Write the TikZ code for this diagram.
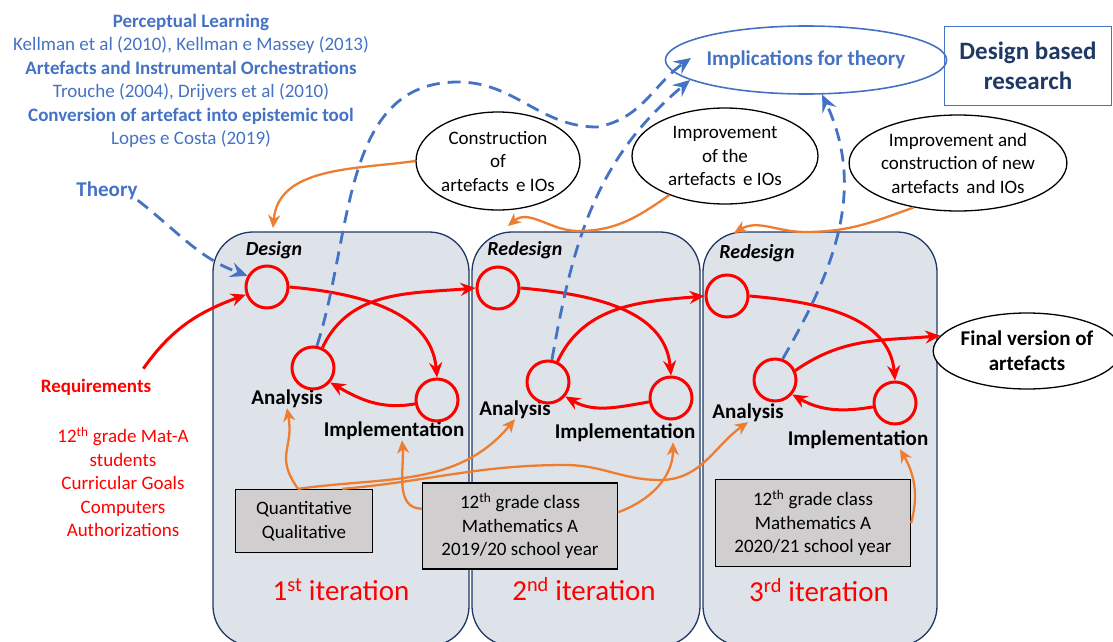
\documentclass[tikz,border=0pt]{standalone}
\usepackage{fontspec}
\setmainfont{Carlito}
\usepackage{tikz}
\usetikzlibrary{shapes.geometric,arrows.meta}
\definecolor{theoryblue}{HTML}{4472C4}
\definecolor{iterorange}{HTML}{ED7D31}
\definecolor{dbrnavy}{HTML}{1F3864}
\definecolor{iterfill}{HTML}{DEE3EA}
\definecolor{datagrey}{HTML}{D0CECE}
\tikzstyle{redarrow}  = [red,line width=3pt,->,>={Stealth[length=15pt,width=13pt,inset=5pt]}]
\tikzstyle{bluedash}  = [theoryblue,line width=2.8pt,dash pattern=on 13pt off 8pt,->,>={Stealth[length=17pt,width=15pt,inset=6pt]}]
\tikzstyle{orangearrow} = [iterorange,line width=2.3pt,->,>={Stealth[length=13pt,width=12pt,inset=4pt]}]
\tikzstyle{stage}     = [circle,draw=red,line width=3pt,minimum size=42pt,inner sep=0pt]
\tikzstyle{iter}      = [rectangle,rounded corners=40pt,draw=dbrnavy,line width=1.3pt,fill=iterfill]
\tikzstyle{txt}       = [font=\fontsize{19}{23.5}\selectfont,align=center,inner sep=0pt]
\tikzstyle{lab}       = [font=\fontsize{21}{25}\selectfont\bfseries,inner sep=0pt]
\tikzstyle{oval}      = [ellipse,draw=black,line width=1.3pt,fill=white,inner sep=0pt,txt]
\tikzstyle{datab}     = [rectangle,draw=black,line width=1.3pt,fill=datagrey,txt]

\begin{document}
\begin{tikzpicture}[x=1pt,y=1pt]
           \useasboundingbox (0,0) rectangle (1113,-642);
           % iteration boxes
           \node[iter,minimum width=256pt,minimum height=414pt](b1)at(341,-439){};
           \node[iter,minimum width=228pt,minimum height=414pt](b2)at(586,-439){};
           \node[iter,minimum width=234pt,minimum height=414pt](b3)at(820,-439){};
           % theory texts
           \node[txt,theoryblue](bt)at(191,-81){\textbf{Perceptual Learning}\\
               Kellman et al (2010), Kellman e Massey (2013)\\
               \textbf{Artefacts and Instrumental Orchestrations}\\
               Trouche (2004), Drijvers et al (2010)\\
               \textbf{Conversion of artefact into epistemic tool}\\
               Lopes e Costa (2019)};
           \node[lab,theoryblue](th)at(107,-191){Theory};
           \node[ellipse,draw=theoryblue,line width=1.6pt,minimum width=224pt,minimum height=68pt,inner sep=0pt,lab,theoryblue](it)at(806,-60){Implications for theory};
           \node[draw=theoryblue,line width=1.6pt,minimum width=167pt,minimum height=79pt,align=center,inner sep=0pt,font=\fontsize{25}{30}\selectfont\bfseries,text=dbrnavy](dbr)at(1028,-66){Design based\\research};
           % requirements
           \node[txt,red,font=\fontsize{19}{23.5}\selectfont\bfseries](rq)at(96,-387){Requirements};
           \node[txt,red](rl)at(123,-482){12\textsuperscript{th} grade Mat-A\\students\\Curricular Goals\\Computers\\Authorizations};
           % ellipses on top
           \node[oval,minimum width=164pt,minimum height=98pt](c1)at(498,-161){Construction\\of\\artefacts\, e IOs};
           \node[oval,minimum width=186pt,minimum height=96pt](c2)at(725,-156){Improvement\\of the\\artefacts\, e IOs};
           \node[oval,minimum width=198pt,minimum height=96pt](c3)at(958,-163){Improvement and\\construction of new\\artefacts\, and IOs};
           \node[oval,minimum width=176pt,minimum height=76pt,font=\fontsize{21}{25}\selectfont\bfseries](fv)at(1027,-351){Final version of\\artefacts};
           % labels in the boxes
           \node[lab,font=\fontsize{20}{24}\selectfont\bfseries\itshape](dl1)at(274,-250){Design};
           \node[lab,font=\fontsize{20}{24}\selectfont\bfseries\itshape](dl2)at(525,-250){Redesign};
           \node[lab,font=\fontsize{20}{24}\selectfont\bfseries\itshape](dl3)at(757,-253){Redesign};
           \node[lab](al1)at(287,-399){Analysis};
           \node[lab](im1)at(394,-431){Implementation};
           \node[lab](al2)at(515,-410){Analysis};
           \node[lab](im2)at(625,-433){Implementation};
           \node[lab](al3)at(748,-413){Analysis};
           \node[lab](im3)at(858,-440){Implementation};
           % circles
           \node[stage](d1)at(267,-287){};
           \node[stage](a1)at(313,-368){};
           \node[stage](m1)at(437,-400){};
           \node[stage](d2)at(498,-288){};
           \node[stage](a2)at(548,-382){};
           \node[stage](m2)at(671,-398){};
           \node[stage](d3)at(727,-296){};
           \node[stage](a3)at(775,-380){};
           \node[stage](m3)at(895,-403){};
           % data boxes
           \node[datab,minimum width=137pt,minimum height=63pt](q)at(304,-521){Quantitative\\Qualitative};
           \node[datab,minimum width=195pt,minimum height=86pt](g2)at(520,-526){12\textsuperscript{th} grade class\\Mathematics A\\2019/20 school year};
           \node[datab,minimum width=195pt,minimum height=87pt](g3)at(813,-523){12\textsuperscript{th} grade class\\Mathematics A\\2020/21 school year};
           % iterations
           \node[red,font=\fontsize{29}{34}\selectfont](n1)at(341,-590){1\textsuperscript{st} iteration};
           \node[red,font=\fontsize{29}{34}\selectfont](n2)at(584,-589){2\textsuperscript{nd} iteration};
           \node[red,font=\fontsize{29}{34}\selectfont](n3)at(819,-590){3\textsuperscript{rd} iteration};
           % free ends
           \coordinate(p1)at(691,-58);
           \coordinate(p2)at(690,-80);
           \coordinate(t1)at(273,-228);
           \coordinate(t2)at(508,-226);
           \coordinate(t3)at(734,-233);
           % red cycle arrows
           \draw[redarrow]([shift={(-8,10)}]rq.north east)to[out=55,in=200](d1.200);
           \draw[redarrow](d1.east)to[out=-5,in=95](m1.north);
           \draw[redarrow](a1.65)to[out=65,in=185](d2.west);
           \draw[redarrow](m1.190)to[out=190,in=-30](a1.-40);
           \draw[redarrow](d2.east)to[out=-5,in=95](m2.north);
           \draw[redarrow](a2.65)to[out=65,in=185](d3.west);
           \draw[redarrow](m2.190)to[out=190,in=-30](a2.-40);
           \draw[redarrow](d3.east)to[out=-5,in=95](m3.north);
           \draw[redarrow](a3.25)to[out=35,in=185](fv.170);
           \draw[redarrow](m3.190)to[out=190,in=-30](a3.-40);
           % theory dashed arrows
           \draw[bluedash](th.south east)to[out=-38,in=160](d1.150);
           \draw[bluedash](a1.80)to[out=72,in=180](458,-82)to[out=0,in=180](597,-127)to[out=10,in=215](p1);
           \draw[bluedash](a2.80)to[out=80,in=220](p2);
           \draw[bluedash](a3.70)to[out=60,in=-65](it.-65);
           % orange arrows
           \draw[orangearrow](c1.west)to[out=188,in=85](t1);
           \draw[orangearrow](c2.215)to[out=215,in=0](578,-231)to[out=180,in=40](t2);
           \draw[orangearrow](c3.225)to[out=200,in=0](805,-232)to[out=180,in=30](t3);
           \draw[orangearrow]([xshift=-6pt]q.north)to[out=125,in=-80,looseness=1.3](al1.south);
           \draw[orangearrow]([xshift=-6pt]q.north)to[out=8,in=230](al2.south);
           \draw[orangearrow](q.40)to[out=5,in=180](565,-465)to[out=0,in=180](660,-480)to[out=0,in=215](al3.south);
           \draw[orangearrow](g2.170)to[out=180,in=-85]([xshift=8pt]im1.south);
           \draw[orangearrow](g2.8)to[out=20,in=-90]([xshift=48pt]im2.south);
           \draw[orangearrow](g3.east)to[out=75,in=-60]([xshift=42pt]im3.south);
\end{tikzpicture}
\end{document}
